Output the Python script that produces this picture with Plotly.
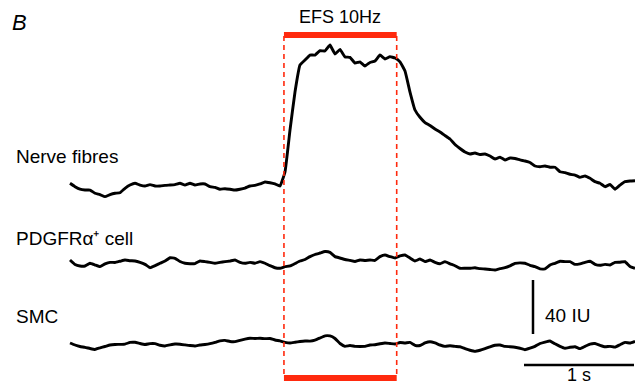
import plotly.graph_objects as go

# Sampling interval (s) of the imaging traces
dt = 1 / 22

# ΔF (IU) for each cell type
nerve = [2.0, -0.5, -2.4, -3.0, -3.0, -5.4, -6.4, -7.9, -6.4, -5.4, -5.0, -1.7, 0.7, 2.0, 0.7, 0.0,
         1.0, 0.0, 0.0, 0.5, 0.7, 1.0, 2.0, 0.7, 2.0, 0.7, 1.5, 1.5, -0.5, -1.0, -2.4, -2.0,
         -2.4, -3.0, -2.4, -1.5, 0.0, 0.5, 1.5, 3.0, 2.4, 1.5, 0.0, 10.4, 41.5, 69.6, 89.6, 93.3,
         97.0, 97.0, 100.2, 100.0, 104.4, 97.8, 101.1, 95.6, 95.3, 91.1, 91.9, 88.9, 91.5, 92.6, 97.0, 94.1,
         95.8, 94.8, 91.9, 85.2, 69.6, 56.3, 50.9, 47.0, 44.8, 42.2, 40.0, 37.4, 34.8, 30.7, 27.8, 25.2,
         23.7, 24.4, 23.3, 23.7, 22.2, 20.0, 21.3, 19.3, 20.7, 20.4, 19.3, 18.5, 17.4, 14.8, 14.3, 14.8,
         13.9, 13.9, 10.6, 9.9, 8.7, 8.1, 6.4, 7.4, 5.7, 3.2, 2.0, -0.5, 1.1, -2.4, 0.7, 3.2,
         3.7, 3.9]

pdgfr = [2.2, -1.1, -2.2, -2.2, -0.2, -1.5, -2.7, -0.7, 0.5, 0.4, 1.3, 2.2, 1.7, 1.5, 0.5, -1.0,
         -3.5, -2.0, -0.2, 1.5, 3.9, 3.5, 1.1, -0.2, -0.5, -0.4, 1.5, 1.0, 0.5, -0.2, 0.5, 1.0,
         1.5, 2.2, 0.5, -0.2, 0.5, -0.2, 1.0, -0.2, -2.0, -3.5, -3.9, -2.7, -2.2, -0.4, 1.5, 2.6,
         4.7, 6.3, 7.4, 8.5, 7.9, 4.7, 3.7, 2.6, 1.9, 1.1, 2.2, 1.9, 2.2, 1.9, 4.7, 5.9,
         4.7, 3.7, 5.2, 5.9, 3.7, 1.5, 3.0, 1.0, 2.2, 0.5, -0.6, 1.0, -0.6, -2.0, -3.9, -3.9,
         -3.9, -3.5, -4.2, -4.4, -4.8, -5.2, -4.2, -3.5, -2.1, -0.2, 0.1, -0.2, -1.7, -2.7, -4.3, -4.4,
         -1.5, -0.2, 1.3, 1.0, 1.0, -1.0, -0.6, 0.5, 1.3, -1.0, -1.7, -1.0, -1.5, 0.5, 0.6, 1.0,
         -2.6, -3.9]

smc = [1.5, 0.0, -1.1, -1.7, -2.6, -3.3, -2.1, -1.1, 0.0, 0.4, 0.5, 0.7, 1.9, 2.0, 1.1, 0.4,
       1.0, 1.0, -0.2, -0.7, 0.1, 0.7, 0.6, 0.1, -0.4, -0.7, 0.0, 0.4, 1.0, 1.9, 3.1, 3.4,
       2.6, 2.5, 3.5, 4.4, 5.0, 4.8, 5.0, 4.7, 4.8, 3.7, 3.0, 2.0, 1.5, 2.0, 2.6, 3.0,
       2.9, 3.6, 5.2, 6.8, 6.7, 4.8, 1.1, -1.0, -0.4, -1.0, -1.1, -1.0, 0.0, 0.2, 0.9, 1.5,
       1.1, 0.7, 1.9, 1.5, 1.9, -0.2, -0.4, 1.5, 2.4, 1.5, 0.0, -1.0, -0.6, -1.0, -1.3, -2.7,
       -3.9, -4.7, -3.9, -2.7, -1.3, -0.2, 0.0, -1.0, -1.3, -1.7, -2.4, -3.5, -2.4, -1.0, 1.1, 2.2,
       3.0, 0.9, -1.0, -2.4, -1.7, -1.3, -2.7, -1.0, 0.7, 1.1, -0.2, -1.3, -1.0, -1.6, 0.2, 1.9,
       1.5, 2.7]

trace_names = ["Nerve fibres", "PDGFRα⁺ cell", "SMC"]
trace_data = [nerve, pdgfr, smc]

# Stimulus (EFS 10 Hz) timing in s
efs_start = 1.945
efs_end = 2.97
efs_label = "EFS 10Hz"

# Scale bars
scale_iu = 40
scale_s = 1

# ---------------- layout constants ----------------
W, H = 635, 386
px_per_s = 110.0
px_per_iu = 1.35
x0_px = 70.0
xr = [-x0_px / px_per_s, (W - x0_px) / px_per_s]
yr = [0, H / px_per_iu]


def ypx(p):  # pixel row -> IU coordinate
    return (H - p) / px_per_iu


def xpx(p):  # pixel column -> seconds coordinate
    return (p - x0_px) / px_per_s


offsets = [ypx(186), ypx(263), ypx(345)]
label_rows = [156, 238, 316]
RED = "#ff2a0e"
FONT = "Liberation Sans, Arial, sans-serif"
FS = 19

fig = go.Figure()
for name, vals, off in zip(trace_names, trace_data, offsets):
    t = [i * dt for i in range(len(vals))]
    fig.add_trace(go.Scatter(x=t, y=[v + off for v in vals], mode="lines",
                             line=dict(color="black", width=2.9, shape="spline", smoothing=0.3),
                             name=name, showlegend=False, hoverinfo="skip"))

shapes = []
# dashed stimulus window
for xs in (efs_start, efs_end):
    shapes.append(dict(type="line", xref="x", yref="y", x0=xs, x1=xs, y0=ypx(36), y1=ypx(378),
                       line=dict(color=RED, width=1.6, dash="5px,4px")))
# thick stimulus bars top and bottom
for row in (35, 378):
    shapes.append(dict(type="line", xref="x", yref="y", x0=efs_start, x1=efs_end, y0=ypx(row), y1=ypx(row),
                       line=dict(color=RED, width=6)))
# scale bars
sb_x = xpx(533)
sb_y0 = ypx(334)
shapes.append(dict(type="line", xref="x", yref="y", x0=sb_x, x1=sb_x, y0=sb_y0, y1=sb_y0 + scale_iu,
                   line=dict(color="black", width=2.5)))
hb_x0 = xpx(524)
hb_y = ypx(365)
shapes.append(dict(type="line", xref="x", yref="y", x0=hb_x0, x1=hb_x0 + scale_s, y0=hb_y, y1=hb_y,
                   line=dict(color="black", width=2.5)))

ann = []
for name, row in zip(trace_names, label_rows):
    ann.append(dict(x=xpx(14), y=ypx(row), xref="x", yref="y", text=name, showarrow=False,
                    xanchor="left", yanchor="middle", font=dict(size=FS, color="black", family=FONT)))
ann.append(dict(x=(efs_start + efs_end) / 2, y=ypx(17), xref="x", yref="y", text=efs_label, showarrow=False,
                xanchor="center", yanchor="middle", font=dict(size=18, color="black", family=FONT)))
ann.append(dict(x=xpx(10), y=ypx(22), xref="x", yref="y", text="<i>B</i>", showarrow=False,
                xanchor="left", yanchor="middle", font=dict(size=22, color="black", family=FONT)))
ann.append(dict(x=xpx(543), y=ypx(315), xref="x", yref="y", text=f"{scale_iu} IU", showarrow=False,
                xanchor="left", yanchor="middle", font=dict(size=FS, color="black", family=FONT)))
ann.append(dict(x=hb_x0 + scale_s / 2, y=ypx(375), xref="x", yref="y", text=f"{scale_s} s", showarrow=False,
                xanchor="center", yanchor="middle", font=dict(size=18, color="black", family=FONT)))

fig.update_layout(
    width=W, height=H, margin=dict(l=0, r=0, t=0, b=0),
    paper_bgcolor="white", plot_bgcolor="white",
    xaxis=dict(range=xr, visible=False, fixedrange=True),
    yaxis=dict(range=yr, visible=False, fixedrange=True),
    shapes=shapes, annotations=ann,
)
fig.write_html("out.html", post_script="document.body.style.margin='0px';",
               config=dict(displayModeBar=False))
